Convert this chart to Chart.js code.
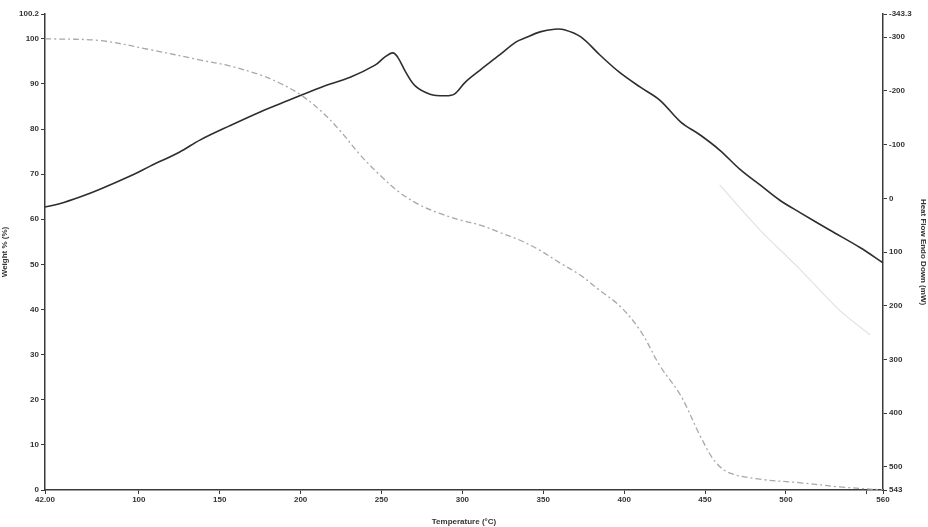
<!DOCTYPE html>
<html>
<head>
<meta charset="utf-8">
<script src="https://cdn.jsdelivr.net/npm/chart.js@4/dist/chart.umd.min.js"></script>
<style>
  body { margin: 0; background: #fff; }
  #wrap { width: 928px; height: 527px; }
</style>
</head>
<body>
<div id="wrap"><canvas id="tga_chart"></canvas></div>
<script>
// temperature (°C) and weight %
var weightTemp = [42, 44, 76, 107, 138, 156, 175, 187, 200, 212, 224, 237, 249, 261, 274, 286, 299, 311, 323, 336, 348, 360, 373, 385, 397, 410, 422, 435, 447, 456, 465, 484, 509, 533, 560]
var weightPct  = [100, 100, 99.6, 97.6, 95.3, 94, 92, 90.2, 87.6, 84.2, 79.8, 74.2, 69.8, 66, 63.1, 61.3, 59.8, 58.7, 57.1, 55.3, 53.1, 50.4, 47.6, 44.2, 40.9, 35.3, 27.6, 20.9, 12, 6.4, 3.8, 2.4, 1.6, 0.7, 0]

// heat flow (mW), right axis
var heatTemp = [42, 51, 64, 76, 95, 107, 125, 138, 156, 175, 193, 212, 231, 246, 252, 257, 260, 265, 271, 280, 289, 295, 302, 311, 323, 333, 339, 348, 357, 363, 373, 385, 397, 410, 422, 435, 447, 459, 472, 484, 496, 509, 527, 546, 560]
var heatFlow = [16, 10, -3, -17, -42, -60, -86, -109, -135, -161, -183, -206, -226, -248, -263, -271, -263, -235, -209, -194, -191, -194, -217, -239, -267, -291, -299, -310, -315, -314, -301, -267, -235, -207, -183, -142, -118, -90, -53, -25, 3, 27, 59, 92, 120]

// faint trace visible at the right side of the scan
var faintTemp = [459, 484, 509, 533, 552]
var faintFlow = [-25, 59, 133, 208, 254]

// axis ticks
var xTicks = [42, 100, 150, 200, 250, 300, 350, 400, 450, 500, 550, 560]
var xTickLabels = ["42.00", "100", "150", "200", "250", "300", "350", "400", "450", "500", "", "560"]
var leftTicks = [0, 10, 20, 30, 40, 50, 60, 70, 80, 90, 100, 105.5]
var leftTickLabels = ["0", "10", "20", "30", "40", "50", "60", "70", "80", "90", "100", "100.2"]
var rightTicks = [-343.3, -300, -200, -100, 0, 100, 200, 300, 400, 500, 543]
var rightTickLabels = ["-343.3", "-300", "-200", "-100", "0", "100", "200", "300", "400", "500", "543"]

function toPoints(xs, ys) {
  let pts = []
  for (let i = 0; i < xs.length; i++) {
    pts.push({ x: xs[i], y: ys[i] })
  }
  return pts
}

function fixedTicks(values) {
  return function (scale) {
    scale.ticks = values.map((v) => ({ value: v }))
  }
}

function labelFrom(values, labels) {
  return function (value) {
    let i = values.indexOf(value)
    return i >= 0 ? labels[i] : ""
  }
}

const tickFont = { family: "Liberation Sans", size: 8, weight: "bold" }
const titleFont = { family: "Liberation Sans", size: 8, weight: "bold" }
const axisColor = "#3a3a3a"

new Chart("tga_chart", {
  type: "line",
  data: {
    datasets: [{
      label: "Weight %",
      data: toPoints(weightTemp, weightPct),
      yAxisID: "yWeight",
      borderColor: "#a8a8a8",
      borderWidth: 1.3,
      borderDash: [6, 3, 2, 3],
      pointRadius: 0,
      tension: 0.35
    }, {
      label: "Heat Flow",
      data: toPoints(heatTemp, heatFlow),
      yAxisID: "yHeat",
      borderColor: "#2e2e2e",
      borderWidth: 1.6,
      pointRadius: 0,
      tension: 0.35
    }, {
      label: "faint",
      data: toPoints(faintTemp, faintFlow),
      yAxisID: "yHeat",
      borderColor: "#e2e2e2",
      borderWidth: 1.2,
      pointRadius: 0,
      tension: 0.3
    }]
  },
  options: {
    responsive: true,
    maintainAspectRatio: false,
    animation: false,
    layout: { padding: { top: 14, left: 0, right: 0, bottom: 0 } },
    plugins: {
      legend: { display: false },
      tooltip: { enabled: false }
    },
    scales: {
      x: {
        type: "linear",
        min: 42,
        max: 560,
        afterBuildTicks: fixedTicks(xTicks),
        afterFit: (scale) => { scale.height = 37 },
        border: { display: true, color: axisColor, width: 1.5 },
        grid: { drawOnChartArea: false, tickLength: 4, color: axisColor },
        ticks: {
          autoSkip: false, maxRotation: 0, padding: 1,
          color: "#333", font: tickFont,
          callback: labelFrom(xTicks, xTickLabels)
        },
        title: { display: true, text: "Temperature (°C)", color: "#333", font: titleFont, padding: { top: 2, bottom: 0 } }
      },
      yWeight: {
        type: "linear",
        position: "left",
        min: 0,
        max: 105.5,
        afterBuildTicks: fixedTicks(leftTicks),
        afterFit: (scale) => { scale.width = 45 },
        border: { display: true, color: axisColor, width: 1.5 },
        grid: { drawOnChartArea: false, tickLength: 4, color: axisColor },
        ticks: {
          autoSkip: false, padding: 2,
          color: "#333", font: tickFont,
          callback: labelFrom(leftTicks, leftTickLabels)
        },
        title: { display: true, text: "Weight % (%)", color: "#333", font: titleFont, padding: 0 }
      },
      yHeat: {
        type: "linear",
        position: "right",
        reverse: true,
        min: -343.3,
        max: 543,
        afterBuildTicks: fixedTicks(rightTicks),
        afterFit: (scale) => { scale.width = 45 },
        border: { display: true, color: axisColor, width: 1.5 },
        grid: { drawOnChartArea: false, tickLength: 4, color: axisColor },
        ticks: {
          autoSkip: false, padding: 2,
          color: "#333", font: tickFont,
          callback: labelFrom(rightTicks, rightTickLabels)
        },
        title: { display: true, text: "Heat Flow Endo Down (mW)", color: "#333", font: titleFont, padding: 0 }
      }
    }
  }
});
</script>
</body>
</html>
